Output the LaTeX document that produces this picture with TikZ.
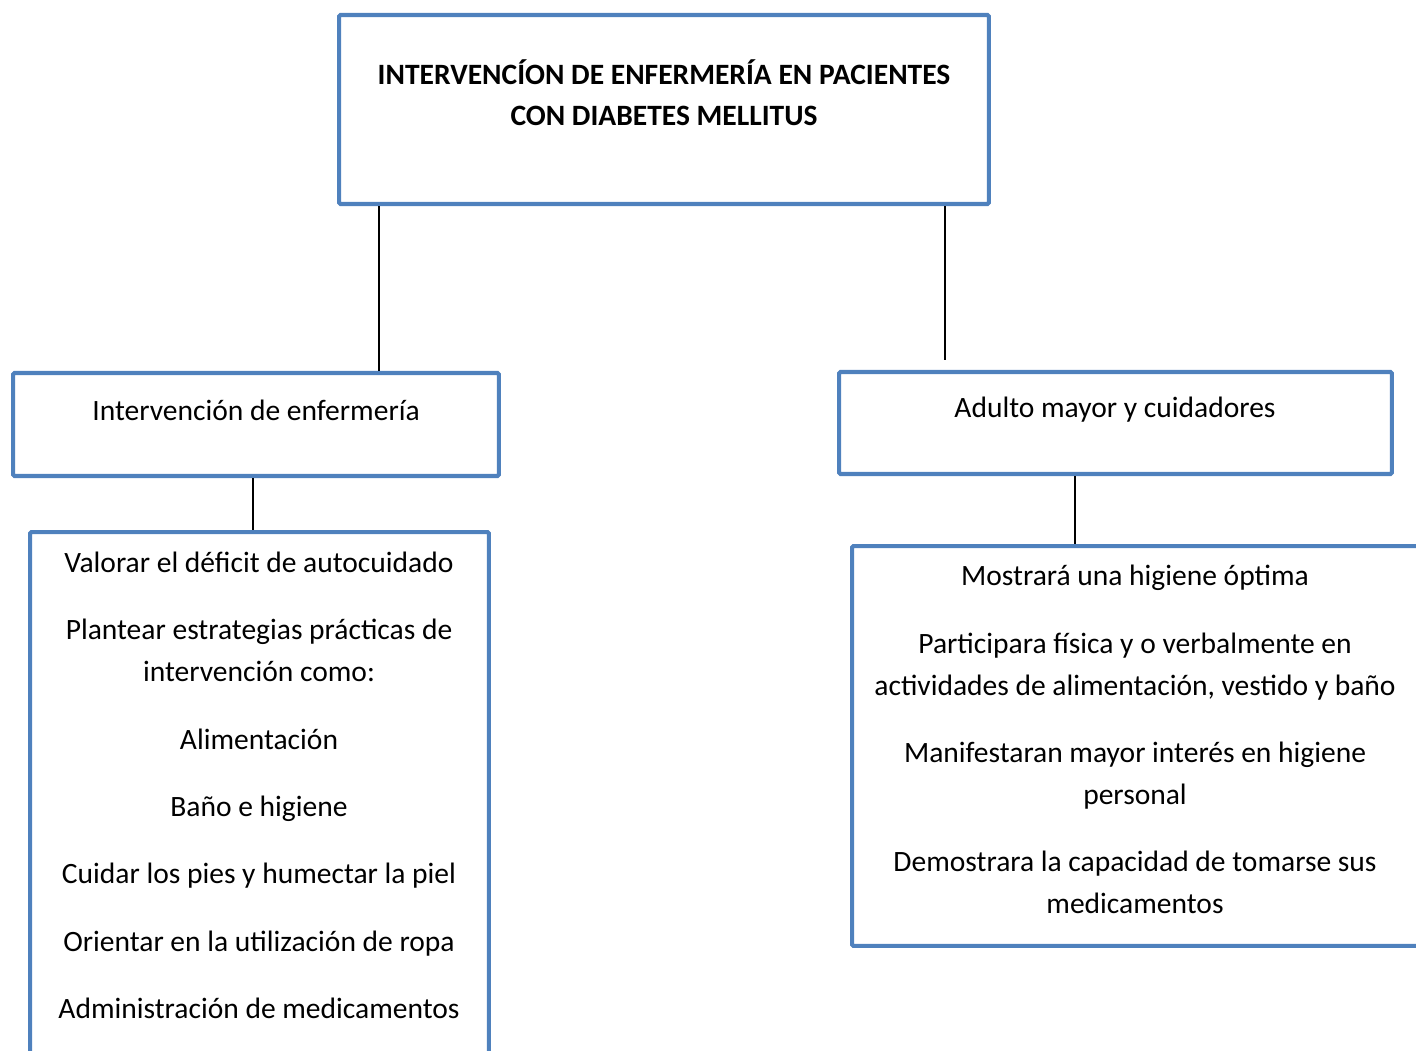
\documentclass[tikz,border=0pt]{standalone}
\usepackage{fontspec}
\setmainfont{Carlito}
\usetikzlibrary{positioning, calc}
\definecolor{azul}{HTML}{4F81BD}

\begin{document}
\begin{tikzpicture}[
    x=0.02cm, y=-0.02cm,
    caja/.style={draw=azul, line width=2.3pt, inner sep=0pt, rounded corners=0.8pt},
    texto/.style={align=center, inner sep=0pt, font=\fontsize{16.8}{23.7}\selectfont},
    linea/.style={line width=1.1pt}
]
\useasboundingbox (0,0) rectangle (1416,1051);
\clip (0,0) rectangle (1416,1051);

% ==========================================
% 1. Cajas
% ==========================================
\node[caja, minimum width=13cm, minimum height=3.78cm] (titulo) at (664,109.5) {};
\node[caja, minimum width=9.72cm, minimum height=2.06cm] (enf) at (256,424.5) {};
\node[caja, minimum width=11.06cm, minimum height=2.04cm] (adulto) at (1115.5,423) {};
\node[caja, minimum width=9.18cm, minimum height=11.36cm] (acciones) at (259.5,816) {}; % sale por abajo
\node[caja, minimum width=11.34cm, minimum height=8cm] (logros) at (1135.5,746) {};     % sale por la derecha

% ==========================================
% 2. Textos
% ==========================================
\node[texto, font=\fontsize{16.8}{23.5}\selectfont\bfseries] (titulo-txt) at (664,92.5)
    {INTERVENCÍON DE ENFERMERÍA EN PACIENTES\\ CON DIABETES MELLITUS};
\node[texto] (enf-txt) at (256,410) {Intervención de enfermería};
\node[texto] (adulto-txt) at (1115,410) {Adulto mayor y cuidadores};

\node[texto] (acciones-txt) at (259,785.5) {%
    Valorar el déficit de autocuidado\\[14.7pt]
    Plantear estrategias prácticas de\\ intervención como:\\[14.7pt]
    Alimentación\\[14.7pt]
    Baño e higiene\\[14.7pt]
    Cuidar los pies y humectar la piel\\[14.7pt]
    Orientar en la utilización de ropa\\[14.7pt]
    Administración de medicamentos};

\node[texto] (logros-txt) at (1135,739.5) {%
    Mostrará una higiene óptima\\[14.7pt]
    Participara física y o verbalmente en\\ actividades de alimentación, vestido y baño\\[14.7pt]
    Manifestaran mayor interés en higiene\\ personal\\[14.7pt]
    Demostrara la capacidad de tomarse sus\\ medicamentos};

% ==========================================
% 3. Conectores
% ==========================================
\draw[linea] (titulo.south -| 379,0) -- (enf.north -| 379,0);
\draw[linea] (titulo.south -| 945,0) -- ($(adulto.north -| 945,0)+(0,-10)$); % no llega a la caja
\draw[linea] (enf.south -| 253,0) -- (acciones.north -| 253,0);
\draw[linea] (adulto.south -| 1075,0) -- (logros.north -| 1075,0);

\end{tikzpicture}
\end{document}
